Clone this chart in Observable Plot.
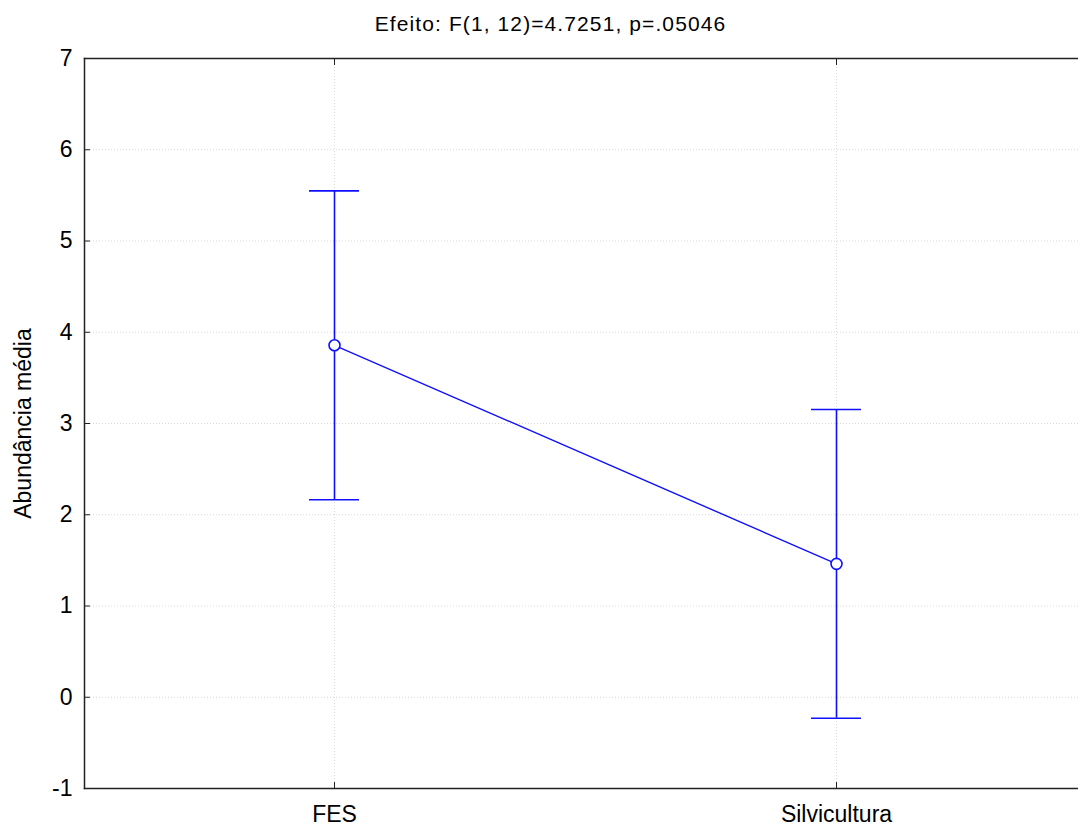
<!DOCTYPE html>
<html><head><meta charset="utf-8">
<script src="https://cdn.jsdelivr.net/npm/d3@7"></script>
<script src="https://cdn.jsdelivr.net/npm/@observablehq/plot@0.6"></script>
<style>
body{margin:0;background:#fff;font-family:"Liberation Sans",Arial,sans-serif;}
#title{height:40px;box-sizing:border-box;padding-top:13px;padding-left:23px;text-align:center;font-size:21px;letter-spacing:1.1px;line-height:21px;color:#000;}
#chart svg{display:block;}
</style></head><body>
<div id="title"></div>
<div id="chart"></div>
<script>
const categories = ["FES", "Silvicultura"];
const means = [3.857, 1.462];
const lower = [2.165, -0.230];
const upper = [5.549, 3.154];
const yTicks = [-1, 0, 1, 2, 3, 4, 5, 6, 7];
const titleText = "Efeito: F(1, 12)=4.7251, p=.05046";
const yLabel = "Abundância média";

document.getElementById("title").textContent = titleText;
const data = categories.map((c, i) => ({cat: c, mean: means[i], lo: lower[i], hi: upper[i]}));
const blue = "#1010ff";
const axisColor = "#222";
const gridStyle = {stroke: "#d9d9d9", strokeOpacity: 1, strokeDasharray: "1,2"};

const plot = Plot.plot({
  width: 1078, height: 787,
  marginTop: 18, marginBottom: 39, marginLeft: 84, marginRight: 0,
  style: {fontFamily: '"Liberation Sans", Arial, sans-serif', fontSize: "23px", color: "#000", background: "#fff"},
  x: {type: "point", domain: categories, range: [334, 836], padding: 0},
  y: {domain: [-1, 7]},
  marks: [
    Plot.gridY(yTicks, gridStyle),
    Plot.gridX(categories, gridStyle),
    Plot.frame({anchor: "left", stroke: axisColor, strokeWidth: 1.5}),
    Plot.frame({anchor: "top", stroke: axisColor, strokeWidth: 1.5}),
    Plot.frame({anchor: "bottom", stroke: axisColor, strokeWidth: 1.5}),
    Plot.axisY(yTicks, {tickSize: -6, tickPadding: 18, tickFormat: d => String(d), label: null, fontSize: 23, stroke: axisColor}),
    Plot.axisX({anchor: "bottom", tickSize: -6, tickPadding: 23, label: null, fontSize: 23, stroke: axisColor}),
    Plot.axisX({anchor: "top", tickSize: -6, tickFormat: () => "", label: null, stroke: axisColor}),
    Plot.ruleX(data, {x: "cat", y1: "lo", y2: "hi", stroke: blue, strokeWidth: 1.6}),
    Plot.ruleY(data, {x1: "cat", x2: "cat", y: "hi", insetLeft: -25, insetRight: -25, stroke: blue, strokeWidth: 1.6}),
    Plot.ruleY(data, {x1: "cat", x2: "cat", y: "lo", insetLeft: -25, insetRight: -25, stroke: blue, strokeWidth: 1.6}),
    Plot.line(data, {x: "cat", y: "mean", stroke: blue, strokeWidth: 1.4}),
    Plot.dot(data, {x: "cat", y: "mean", r: 5.5, fill: "white", stroke: blue, strokeWidth: 1.6}),
    Plot.text([yLabel], {frameAnchor: "left", textAnchor: "middle", rotate: -90, dx: -61, fontSize: 23, fill: "#000"})
  ]
});
document.getElementById("chart").appendChild(plot);
</script>
</body></html>
